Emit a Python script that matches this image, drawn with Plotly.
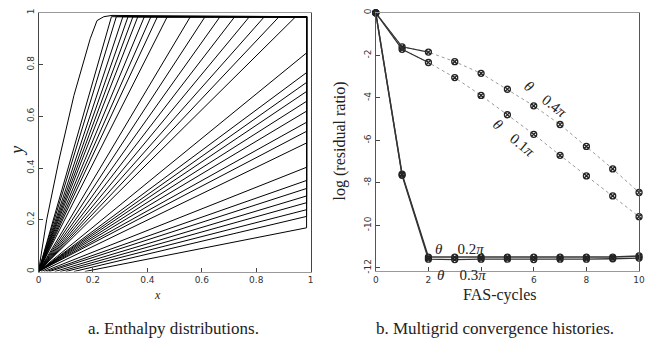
import plotly.graph_objects as go

# ---------------- data: panel a (enthalpy contour lines) ----------------
# leftmost (curved) contour
curve_x = [0.0, 0.03, 0.075, 0.13, 0.19, 0.215, 0.24, 0.27]
curve_y = [0.0, 0.2, 0.43, 0.68, 0.9, 0.97, 0.985, 0.99]
# contours reaching the top boundary (x where they meet it)
top_end_x = [0.268, 0.286, 0.31, 0.329, 0.347, 0.365, 0.389, 0.413, 0.437,
             0.473, 0.558, 0.612, 0.667, 0.721, 0.775, 0.83, 0.884, 0.945]
# contours reaching the right boundary (y where they meet it)
right_end_y = [0.845, 0.769, 0.731, 0.696, 0.658, 0.62, 0.577, 0.542, 0.497,
               0.403, 0.352, 0.321, 0.292, 0.266, 0.239, 0.213, 0.169]
right_start_x = [0.0, 0.0, 0.0, 0.0, 0.0, 0.0, 0.0, 0.0, 0.01,
                 0.02, 0.03, 0.04, 0.06, 0.08, 0.1, 0.13, 0.17]
boundary = 0.985
x_ticks_a = [0, 0.2, 0.4, 0.6, 0.8, 1]
x_ticklabels_a = ["0", "0.2", "0.4", "0.6", "0.8", "1"]
y_ticks_a = [0, 0.2, 0.4, 0.6, 0.8, 1]
y_ticklabels_a = ["0", "0.2", "0.4", "0.6", "0.8", "1"]

# ---------------- data: panel b (convergence histories) ----------------
cycles = [0, 1, 2, 3, 4, 5, 6, 7, 8, 9, 10]
res_04 = [0, -1.6, -1.85, -2.3, -2.85, -3.6, -4.38, -5.26, -6.29, -7.35, -8.46]
res_01 = [0, -1.72, -2.34, -3.05, -3.89, -4.8, -5.72, -6.71, -7.68, -8.62, -9.6]
res_02 = [0, -7.6, -11.5, -11.5, -11.5, -11.5, -11.5, -11.5, -11.5, -11.5, -11.45]
res_03 = [0, -7.65, -11.6, -11.62, -11.6, -11.6, -11.62, -11.6, -11.6, -11.58, -11.55]
x_ticks_b = [0, 2, 4, 6, 8, 10]
x_ticklabels_b = ["0", "2", "", "6", "8", "10"]
y_ticks_b = [0, -2, -4, -6, -8, -10, -12]
y_ticklabels_b = ["0", "-2", "-4", "-6", "-8", "-10", "-12"]

W, H = 649, 349
def px(x):
    return x / W
def py(y):
    return 1 - y / H

fig = go.Figure()

# build contour polylines
cx, cy = [], []
cx += curve_x + [boundary, None]
cy += curve_y + [boundary, None]
for xe in top_end_x:
    cx += [0.0, xe, boundary, None]
    cy += [0.0, boundary, boundary, None]
for ye, xs in zip(right_end_y, right_start_x):
    cx += [xs, boundary, boundary, None]
    cy += [0.0, ye, boundary, None]

fig.add_trace(go.Scatter(x=cx, y=cy, mode="lines", xaxis="x", yaxis="y",
                         line=dict(color="black", width=1), showlegend=False,
                         hoverinfo="skip"))

mk = dict(symbol="circle-x-open", size=6, color="#222", line=dict(width=1.3, color="#222"))

# theta = 0.4pi and 0.1pi: dotted gray, first segment solid black
for res in (res_04, res_01):
    fig.add_trace(go.Scatter(x=cycles, y=res, mode="lines+markers", xaxis="x2", yaxis="y2",
                             line=dict(color="#999", width=1, dash="dot"), marker=mk,
                             cliponaxis=False, showlegend=False))
    fig.add_trace(go.Scatter(x=cycles[:3], y=res[:3], mode="lines", xaxis="x2", yaxis="y2",
                             line=dict(color="#333", width=1.2), cliponaxis=False,
                             showlegend=False))
# theta = 0.2pi and 0.3pi: solid
for res in (res_02, res_03):
    fig.add_trace(go.Scatter(x=cycles, y=res, mode="lines+markers", xaxis="x2", yaxis="y2",
                             line=dict(color="#333", width=1.4), marker=mk,
                             cliponaxis=False, showlegend=False))

tickfont = dict(family="DejaVu Sans", size=9, color="#333")
serif = "Liberation Serif"

fig.update_layout(
    width=W, height=H,
    margin=dict(l=0, r=0, t=0, b=0),
    paper_bgcolor="white", plot_bgcolor="white",
    xaxis=dict(domain=[px(36), px(312)], anchor="y", range=[0, 1],
               tickvals=x_ticks_a, ticktext=x_ticklabels_a, ticks="inside", ticklen=4,
               tickcolor="#444", showgrid=False, zeroline=False, showline=True, mirror=True,
               linecolor="#999", linewidth=1, tickfont=tickfont),
    yaxis=dict(domain=[py(273), py(9)], anchor="x", range=[0, 1],
               tickvals=y_ticks_a, ticktext=y_ticklabels_a, ticks="inside", ticklen=4,
               tickcolor="#444", showgrid=False, zeroline=False, showline=True, mirror=True,
               linecolor="#444", linewidth=1, tickfont=tickfont, tickangle=-90),
    xaxis2=dict(domain=[px(378), px(645)], anchor="y2", range=[0, 10],
                tickvals=x_ticks_b, ticktext=x_ticklabels_b, ticks="inside", ticklen=4,
                tickcolor="#444", showgrid=False, zeroline=False, showline=True, mirror=True,
                linecolor="#999", linewidth=1, tickfont=tickfont),
    yaxis2=dict(domain=[py(272.3), py(9)], anchor="x2", range=[-12.15, 0],
                tickvals=y_ticks_b, ticktext=y_ticklabels_b, ticks="inside", ticklen=4,
                tickcolor="#444", showgrid=False, zeroline=False, showline=True, mirror=True,
                linecolor="#555", linewidth=1, tickfont=tickfont, tickangle=-90),
)

ann = []
def paper_text(text, x, y, size, angle=0, italic=False, family=serif):
    t = f"<i>{text}</i>" if italic else text
    ann.append(dict(text=t, x=px(x), y=py(y), xref="paper", yref="paper",
                    showarrow=False, textangle=angle, xanchor="center", yanchor="middle",
                    font=dict(family=family, size=size, color="#222")))

paper_text("y", 14, 150, 18, angle=-90, italic=True)
paper_text("x", 157, 297, 12, italic=True)
paper_text("log (residual ratio)", 342, 140, 16, angle=-90)
paper_text("FAS-cycles", 503, 297, 16)
paper_text("a. Enthalpy distributions.", 173, 331, 17)
paper_text("b. Multigrid convergence histories.", 499, 331, 17)
paper_text("<i>θ</i>    0.3<i>π</i>", 465, 277, 15)

def data_text(text, x, y, angle):
    ann.append(dict(text=text, x=x, y=y, xref="x2", yref="y2", showarrow=False,
                    textangle=angle, xanchor="center", yanchor="middle",
                    font=dict(family=serif, size=15, color="#222")))

data_text("<i>θ</i>    0.4<i>π</i>", 6.44, -4.06, 38)
data_text("<i>θ</i>    0.1<i>π</i>", 5.24, -5.9, 40)
data_text("<i>θ</i>    0.2<i>π</i>", 3.18, -11.12, 0)

fig.update_layout(annotations=ann)
# remove the default page margin so the 649x349 figure fills the window exactly
fig.write_html("out.html", config={"displayModeBar": False},
               post_script="document.body.style.margin='0';document.body.style.overflow='hidden';")
